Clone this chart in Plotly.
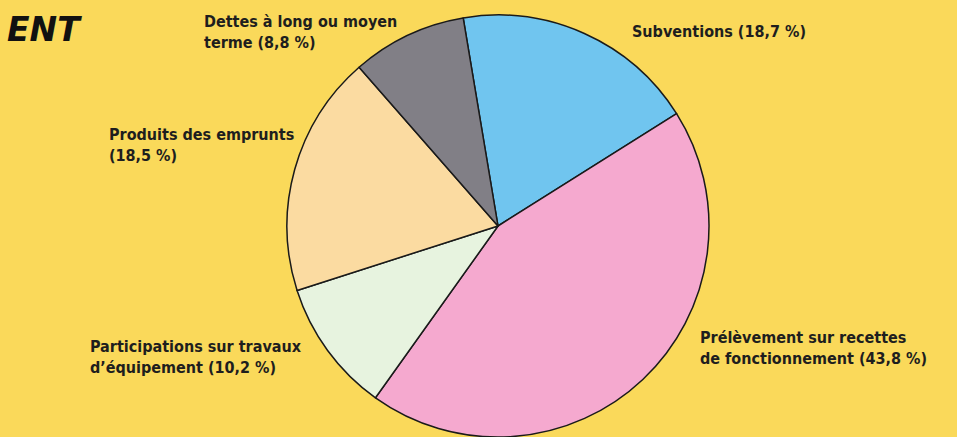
import plotly.graph_objects as go

# ---------------------------------------------------------------------------
# 数据
# ---------------------------------------------------------------------------

categories = [
    'Subventions',
    'Prélèvement sur recettes de fonctionnement',
    "Participations sur travaux d'équipement",
    'Produits des emprunts',
    'Dettes à long ou moyen terme',
]
shares = [18.7, 43.8, 10.2, 18.5, 8.8]

label_texts = [
    'Subventions (18,7 %)',
    'Prélèvement sur recettes<br>de fonctionnement (43,8 %)',
    'Participations sur travaux<br>d’équipement (10,2 %)',
    'Produits des emprunts<br>(18,5 %)',
    'Dettes à long ou moyen<br>terme (8,8 %)',
]

# ---------------------------------------------------------------------------
# 样式
# ---------------------------------------------------------------------------

W, H = 957, 437
BG = '#fad95a'
colors = ['#70c5ef', '#f5a9cf', '#e7f3df', '#fbdba1', '#817f86']
# 标签左侧像素位置（左对齐，垂直居中）
label_px = [(630, 32), (698, 348), (88, 357), (107, 145), (202, 32)]
FONT = 'DejaVu Sans Condensed, Liberation Sans Narrow, Arial Narrow, sans-serif'

fig = go.Figure(go.Pie(
    labels=categories,
    values=shares,
    sort=False,
    direction='clockwise',
    rotation=-9.5,
    marker=dict(colors=colors, line=dict(color='#1a1a1a', width=1.5)),
    textinfo='none',
    hoverinfo='label+percent',
    domain=dict(x=[287 / W, 709 / W], y=[0, 422 / H]),
    showlegend=False,
))

for txt, (px_, py_) in zip(label_texts, label_px):
    fig.add_annotation(
        x=px_ / W, y=1 - py_ / H, xref='paper', yref='paper',
        text=f'<b>{txt}</b>', showarrow=False,
        xanchor='left', yanchor='middle', align='left',
        font=dict(family=FONT, size=16, color='#1e1e1e'),
    )

# 左上角被截断的标题
fig.add_annotation(
    x=84 / W, y=1 - 29 / H, xref='paper', yref='paper',
    text='<b><i>ENT</i></b>', showarrow=False,
    xanchor='right', yanchor='middle',
    font=dict(family='DejaVu Sans, Arial, sans-serif', size=33, color='#111111'),
)

fig.update_layout(
    width=W, height=H,
    margin=dict(l=0, r=0, t=0, b=0),
    paper_bgcolor=BG, plot_bgcolor=BG,
)

fig.write_html('out.html', config={'displayModeBar': False},
               post_script="document.body.style.margin='0';")
